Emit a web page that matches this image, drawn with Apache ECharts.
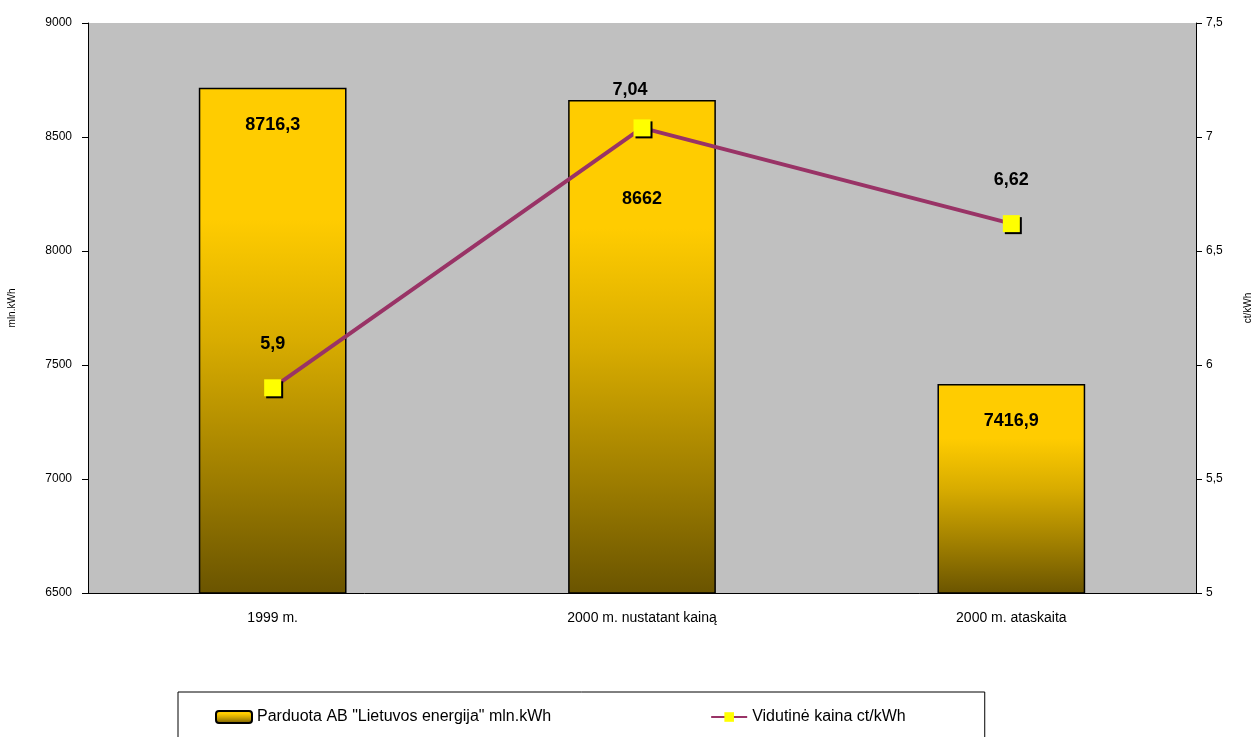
<!DOCTYPE html>
<html>
<head>
<meta charset="utf-8">
<script src="https://cdn.jsdelivr.net/npm/echarts@6/dist/echarts.min.js"></script>
<style>
  html, body { margin: 0; padding: 0; background: #fff; }
  #chart { width: 1251px; height: 737px; }
</style>
</head>
<body>
<div id="chart"></div>
<script>
const categories = ['1999 m.', '2000 m. nustatant kainą', '2000 m. ataskaita'];
const soldValues = [8716.3, 8662, 7416.9];
const priceValues = [5.9, 7.04, 6.62];
const soldName = 'Parduota AB "Lietuvos energija" mln.kWh';
const priceName = 'Vidutinė kaina ct/kWh';

const comma = v => String(v).replace('.', ',');

const barGradient = new echarts.graphic.LinearGradient(0, 0, 0, 1, [
    { offset: 0, color: '#FFCC00' },
    { offset: 0.26, color: '#FFCC00' },
    { offset: 0.5, color: '#D8AC00' },
    { offset: 0.78, color: '#9C7C00' },
    { offset: 1, color: '#6A5400' }
]);

const option = {
    backgroundColor: '#fff',
    textStyle: { fontFamily: 'Liberation Sans, Arial, sans-serif' },
    grid: {
        left: 88, right: 55, top: 23, bottom: 144,
        outerBoundsMode: 'none',
        show: true, backgroundColor: '#C0C0C0', borderWidth: 0
    },
    legend: {
        left: 178, top: 692,
        padding: [17, 79, 20, 37],
        itemGap: 159,
        itemWidth: 36, itemHeight: 12,
        borderColor: '#000', borderWidth: 1,
        textStyle: { fontSize: 16, color: '#000' },
        data: [soldName, priceName]
    },
    xAxis: {
        type: 'category',
        data: categories,
        axisLine: { lineStyle: { color: '#000', width: 1 } },
        axisTick: { lineStyle: { color: '#000' }, length: 6 },
        axisLabel: { color: '#000', fontSize: 14, margin: 18 }
    },
    yAxis: [
        {
            type: 'value', min: 6500, max: 9000, interval: 500,
            name: 'mln.kWh', nameLocation: 'middle', nameGap: 71, nameRotate: 90,
            nameTextStyle: { fontSize: 10, color: '#000' },
            axisLine: { show: true, lineStyle: { color: '#000' } },
            axisTick: { show: true, length: 6, lineStyle: { color: '#000' } },
            axisLabel: { color: '#000', fontSize: 12, margin: 16, formatter: v => String(v) },
            splitLine: { show: false }
        },
        {
            type: 'value', min: 5, max: 7.5, interval: 0.5,
            name: 'ct/kWh', nameLocation: 'middle', nameGap: 47, nameRotate: 90,
            nameTextStyle: { fontSize: 10, color: '#000' },
            axisLine: { show: true, lineStyle: { color: '#000' } },
            axisTick: { show: true, length: 6, lineStyle: { color: '#000' } },
            axisLabel: { color: '#000', fontSize: 12, margin: 10, formatter: v => comma(v) },
            splitLine: { show: false }
        }
    ],
    series: [
        {
            name: soldName,
            type: 'bar',
            barWidth: '40%',
            yAxisIndex: 0,
            itemStyle: { color: barGradient, borderColor: '#000', borderWidth: 1.5 },
            label: {
                show: true, position: 'insideTop', distance: 28,
                fontSize: 18, fontWeight: 'bold', color: '#000',
                formatter: p => comma(p.value)
            },
            data: soldValues.map((v, i) => i === 1
                ? { value: v, label: { offset: [0, 62] } }
                : v)
        },
        {
            name: priceName,
            type: 'line',
            yAxisIndex: 1,
            symbol: 'rect',
            symbolSize: 17,
            lineStyle: { color: '#993366', width: 4 },
            itemStyle: {
                color: '#FFFF00', borderWidth: 0,
                shadowColor: '#000', shadowOffsetX: 2, shadowOffsetY: 2
            },
            label: {
                show: true, position: 'top', distance: 26,
                fontSize: 18, fontWeight: 'bold', color: '#000',
                formatter: p => comma(p.value)
            },
            data: priceValues.map((v, i) => i === 1
                ? { value: v, label: { offset: [-12, 6] } }
                : v),
            z: 5
        }
    ]
};

const chart = echarts.init(document.getElementById('chart'));
chart.setOption(option);
</script>
</body>
</html>
